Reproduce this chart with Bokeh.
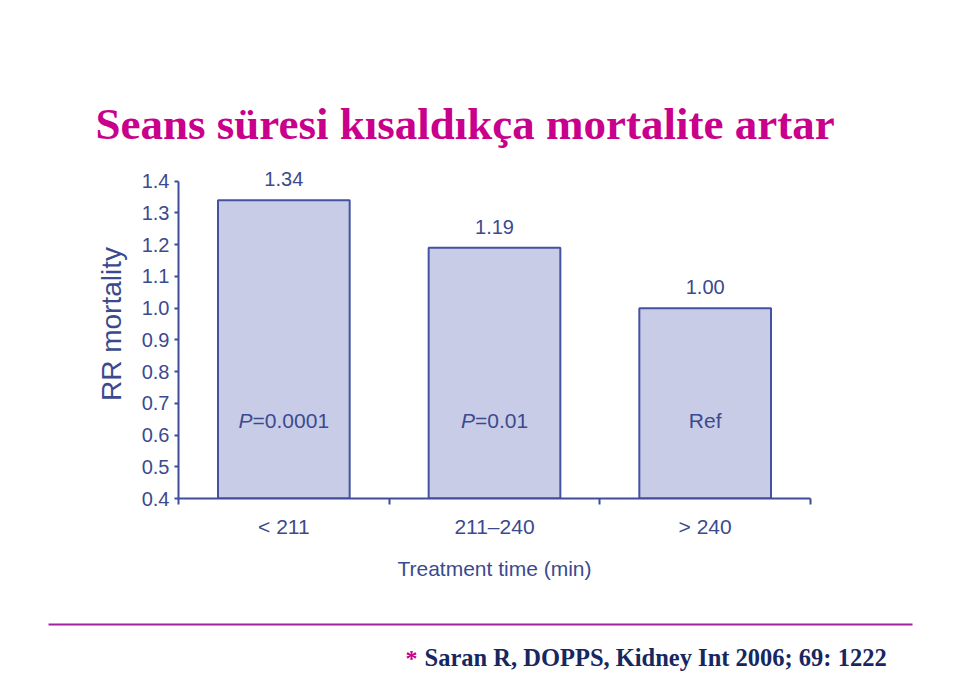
from bokeh.plotting import figure
from bokeh.layouts import column
from bokeh.models import (Range1d, FixedTicker, NumeralTickFormatter, Label,
                          LabelSet, ColumnDataSource)
from bokeh.core.properties import value
from bokeh.embed import file_html
from bokeh.resources import INLINE

# ---------------- data ----------------
title_text = "Seans süresi kısaldıkça mortalite artar"
categories = ["< 211", "211–240", "> 240"]
rr_values = [1.34, 1.19, 1.00]
value_labels = ["1.34", "1.19", "1.00"]
p_values = ["0.0001", "0.01", None]
ref_label = "Ref"
y_ticks = [0.4, 0.5, 0.6, 0.7, 0.8, 0.9, 1.0, 1.1, 1.2, 1.3, 1.4]
x_axis_title = "Treatment time (min)"
y_axis_title = "RR mortality"
citation_mark = "*"
citation_text = "Saran R, DOPPS, Kidney Int 2006; 69: 1222"

# ---------------- styles ----------------
SANS = "Liberation Sans"
SERIF = "Liberation Serif"
TXT = "#3b4a8e"
AXIS = "#3f4c9c"
BAR_FILL = "#c9cce7"
BAR_LINE = "#4452a2"
MAGENTA = "#c8008c"
RULE = "#a4209f"
NAVY = "#17275f"
P_LABEL_Y = 0.645
P_FONT = 21
W = 944
FL, FR = 178, 810          # chart frame left / right (pixels)
H_HEAD, H_CHART, H_FOOT = 149, 451, 86


def no_align(f):
    if "frame_align" in f.properties():
        f.frame_align = False
    return f


def blank(height, y_top):
    # full-width frame; data units == page pixels
    f = figure(width=W, height=height, output_backend="svg",
               toolbar_location=None, x_range=Range1d(0, W),
               y_range=Range1d(y_top + height, y_top),
               min_border=0, x_axis_type=None, y_axis_type=None)
    f.outline_line_color = None
    f.grid.visible = False
    f.background_fill_color = "white"
    f.border_fill_color = "white"
    return no_align(f)


# ---------------- header (slide title) ----------------
head = blank(H_HEAD, 0)
head.text(x=[95], y=[123], text=[title_text], text_font=value(SERIF),
          text_font_style="bold", text_font_size="45px", text_color=MAGENTA,
          text_baseline="alphabetic", text_align="left")

# ---------------- chart ----------------
p = figure(width=W, height=H_CHART, output_backend="svg", toolbar_location=None,
           x_range=Range1d(0, len(categories)), y_range=Range1d(0.4, 1.5),
           min_border_left=FL, min_border_right=W - FR,
           min_border_top=0, min_border_bottom=102)
no_align(p)
p.outline_line_color = None
p.xgrid.visible = False
p.ygrid.visible = False
p.background_fill_color = "white"
p.border_fill_color = "white"

xs = [i + 0.5 for i in range(len(categories))]
src = ColumnDataSource(dict(x=xs, top=rr_values, lab=value_labels))
p.vbar(x="x", top="top", bottom=y_ticks[0], width=0.625, source=src,
       fill_color=BAR_FILL, line_color=BAR_LINE, line_width=2)

p.add_layout(LabelSet(x="x", y="top", text="lab", source=src, y_offset=14,
                      text_align="center", text_baseline="alphabetic",
                      text_font=value(SANS), text_font_size="20px",
                      text_color=TXT))

AW = {"P": .667, "=": .584, "0": .556, "1": .556, ".": .278}


def em(s):
    return sum(AW.get(c, .556) for c in s)


for x, pv in zip(xs, p_values):
    if pv is None:
        p.add_layout(Label(x=x, y=P_LABEL_Y, text=ref_label, text_align="center",
                           text_baseline="middle", text_font=SANS,
                           text_font_size=f"{P_FONT}px", text_color=TXT))
        continue
    rest = "=" + pv
    total = em("P") + em(rest)
    join = (-total / 2 + em("P")) * P_FONT
    p.add_layout(Label(x=x, y=P_LABEL_Y, text="P", x_offset=join,
                       text_align="right", text_baseline="middle",
                       text_font=SANS, text_font_style="italic",
                       text_font_size=f"{P_FONT}px", text_color=TXT))
    p.add_layout(Label(x=x, y=P_LABEL_Y, text=rest, x_offset=join,
                       text_align="left", text_baseline="middle",
                       text_font=SANS, text_font_size=f"{P_FONT}px",
                       text_color=TXT))

xa = p.xaxis[0]
xa.ticker = FixedTicker(ticks=xs, minor_ticks=list(range(len(categories) + 1)))
xa.major_label_overrides = {x: c for x, c in zip(xs, categories)}
xa.major_tick_line_color = None
xa.major_tick_out = 6
xa.major_tick_in = 0
xa.minor_tick_out = 6
xa.minor_tick_in = 0
xa.minor_tick_line_color = AXIS
xa.minor_tick_line_width = 2
xa.axis_line_color = AXIS
xa.axis_line_width = 2
xa.major_label_standoff = 10
xa.major_label_text_font = SANS
xa.major_label_text_font_size = "21px"
xa.major_label_text_color = TXT
xa.axis_label = x_axis_title
xa.axis_label_text_font = SANS
xa.axis_label_text_font_size = "21px"
xa.axis_label_text_font_style = "normal"
xa.axis_label_text_color = TXT
xa.axis_label_standoff = 16

ya = p.yaxis[0]
ya.ticker = FixedTicker(ticks=y_ticks)
ya.formatter = NumeralTickFormatter(format="0.0")
ya.bounds = (y_ticks[0], y_ticks[-1])
ya.minor_tick_line_color = None
ya.major_tick_out = 4
ya.major_tick_in = 0
ya.major_tick_line_color = AXIS
ya.major_tick_line_width = 2
ya.axis_line_color = AXIS
ya.axis_line_width = 2
ya.major_label_standoff = 5
ya.major_label_text_font = SANS
ya.major_label_text_font_size = "20px"
ya.major_label_text_color = TXT
ya.axis_label = y_axis_title
ya.axis_label_text_font = SANS
ya.axis_label_text_font_size = "28px"
ya.axis_label_text_font_style = "normal"
ya.axis_label_text_color = TXT
ya.axis_label_standoff = 12

# ---------------- footer (rule + citation) ----------------
foot = blank(H_FOOT, H_HEAD + H_CHART)
foot.line(x=[48, 912], y=[624, 624], line_color=RULE, line_width=2)
foot.text(x=[405], y=[657], text=[citation_mark], text_font=value(SERIF),
          text_font_style="bold", text_font_size="24px", text_color=MAGENTA,
          text_baseline="alphabetic", text_align="left")
foot.text(x=[424], y=[657], text=[citation_text], text_font=value(SERIF),
          text_font_style="bold", text_font_size="24.5px", text_color=NAVY,
          text_baseline="alphabetic", text_align="left")

layout = column(head, p, foot, spacing=0)
open("out.html", "w").write(file_html(layout, INLINE))
